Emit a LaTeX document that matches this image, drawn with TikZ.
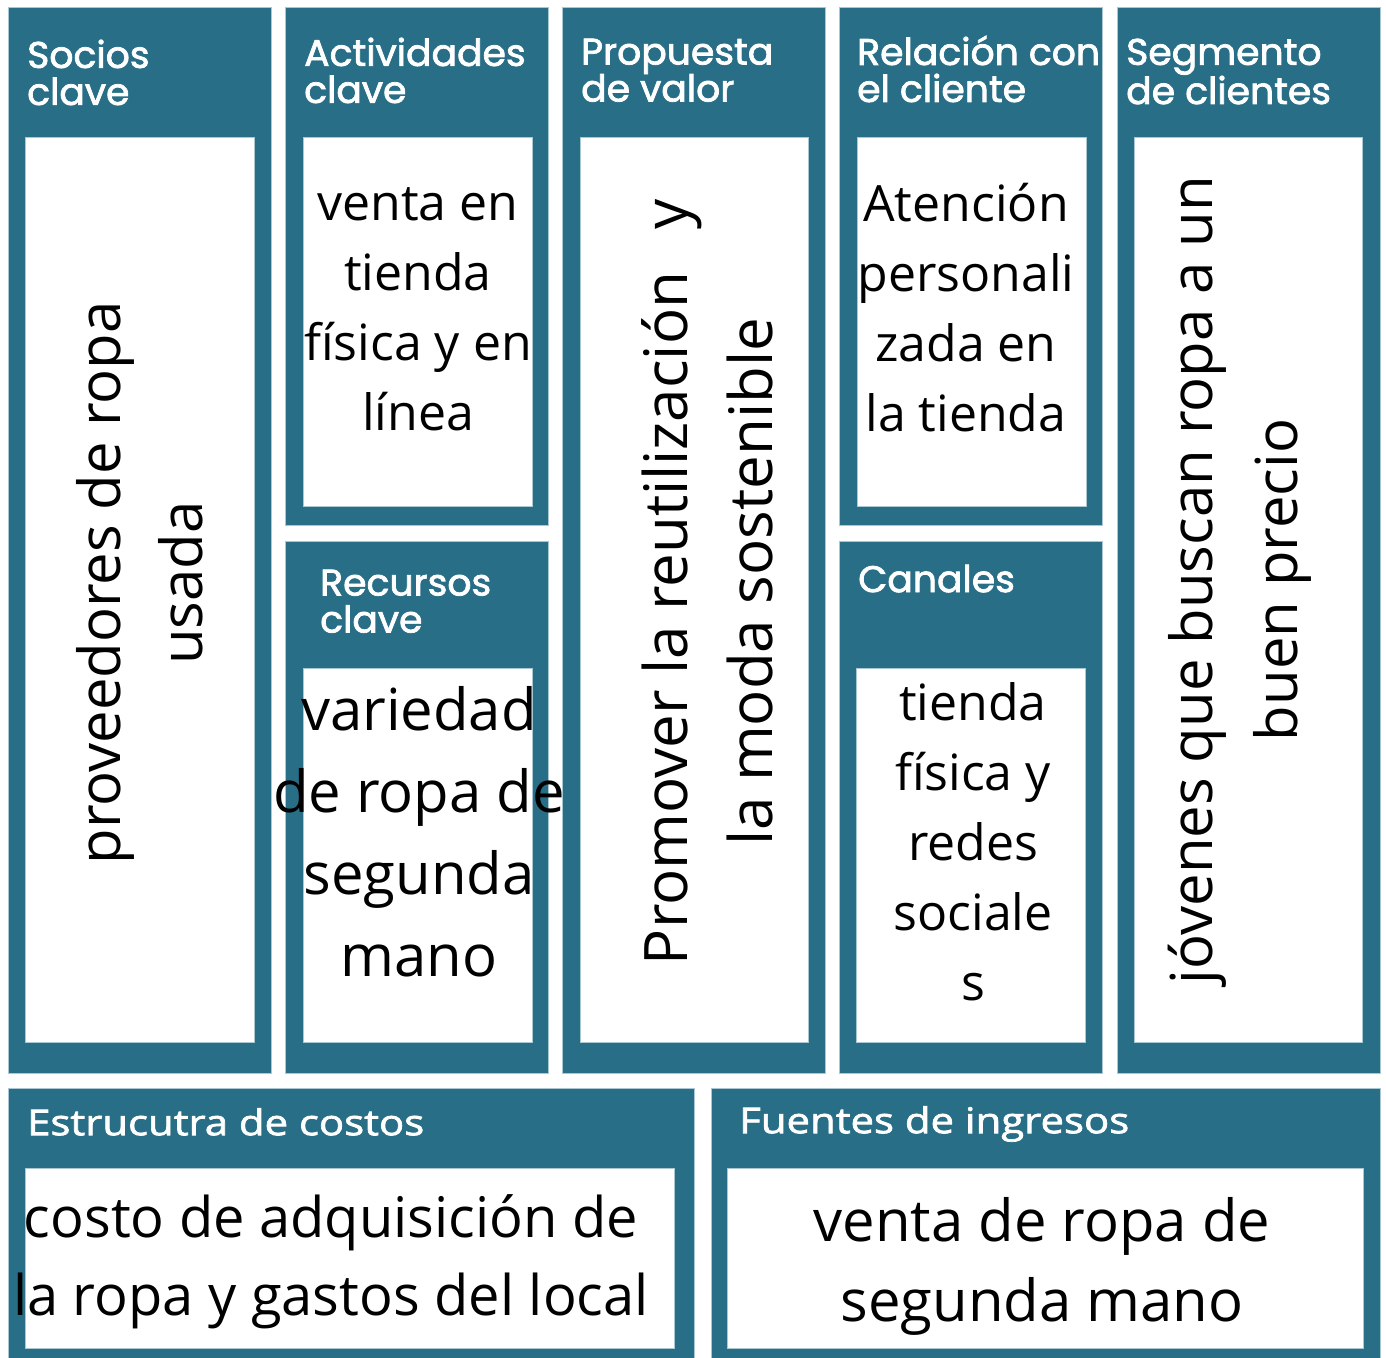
\documentclass[tikz,border=0pt]{standalone}
\usepackage{fontspec}
\setmainfont{Open Sans}
\newfontfamily\hdrfont{Poppins}[FakeBold=2,FakeStretch=1.02]
\newfontfamily\subhdrfont{Open Sans}[FakeBold=2,FakeStretch=1.18]
\newfontfamily\bodyfont{Open Sans}
\definecolor{canvasteal}{RGB}{40,110,135}
\definecolor{paleedge}{RGB}{170,200,212}
\begin{document}
\begin{tikzpicture}[x=1pt,y=-1pt,
  outerbox/.style={fill=canvasteal, draw=paleedge, line width=0.6pt, inner sep=0pt, outer sep=0pt, anchor=north west},
  innerbox/.style={fill=white, draw=paleedge, line width=0.8pt, inner sep=0pt, outer sep=0pt, anchor=north west},
  hdr/.style={text=white, font=\hdrfont\fontsize{37}{37}\selectfont, align=left, anchor=north west, inner sep=0pt},
  subhdr/.style={text=white, font=\subhdrfont\fontsize{35.5}{40}\selectfont, align=left, anchor=north west, inner sep=0pt},
  bodyM/.style={text=black, font=\bodyfont\fontsize{50}{70}\selectfont, align=center, inner sep=0pt},
  bodyL/.style={text=black, font=\bodyfont\fontsize{58}{82}\selectfont, align=center, inner sep=0pt},
  bodyR/.style={text=black, font=\bodyfont\fontsize{58}{82}\selectfont, align=center, inner sep=0pt, rotate=90},
]
\useasboundingbox (0,0) rectangle (1386,1357);
\fill[white] (0,0) rectangle (1386,1357);

% outer boxes
\node[outerbox, minimum width=263pt, minimum height=1066pt] (socios) at (8,7) {};
\node[outerbox, minimum width=263pt, minimum height=518pt] (activ) at (285,7) {};
\node[outerbox, minimum width=263pt, minimum height=532pt] (recur) at (285,541) {};
\node[outerbox, minimum width=263pt, minimum height=1066pt] (prop) at (562,7) {};
\node[outerbox, minimum width=263pt, minimum height=518pt] (relac) at (839,7) {};
\node[outerbox, minimum width=263pt, minimum height=532pt] (canal) at (839,541) {};
\node[outerbox, minimum width=263pt, minimum height=1066pt] (segm) at (1117,7) {};
\node[outerbox, minimum width=686pt, minimum height=275pt] (costos) at (8,1088) {};
\node[outerbox, minimum width=669pt, minimum height=275pt] (ingre) at (711,1088) {};

% inner white boxes
\node[innerbox, minimum width=229pt, minimum height=905pt] (sociosW) at (25,137) {};
\node[innerbox, minimum width=229pt, minimum height=369pt] (activW) at (303,137) {};
\node[innerbox, minimum width=229pt, minimum height=374pt] (recurW) at (303,668) {};
\node[innerbox, minimum width=228pt, minimum height=905pt] (propW) at (580,137) {};
\node[innerbox, minimum width=229pt, minimum height=369pt] (relacW) at (857,137) {};
\node[innerbox, minimum width=229pt, minimum height=374pt] (canalW) at (856,668) {};
\node[innerbox, minimum width=228pt, minimum height=905pt] (segmW) at (1134,137) {};
\node[innerbox, minimum width=649pt, minimum height=180pt] (costosW) at (25,1168) {};
\node[innerbox, minimum width=636pt, minimum height=180pt] (ingreW) at (727,1168) {};

% headers
\node[hdr] (hSocios) at (27,39.5) {Socios\\clave};
\node[hdr] (hActiv) at (304,37.5) {Actividades\\clave};
\node[hdr] (hProp) at (581,38.5) {Propuesta\\de valor};
\node[hdr] (hRelac) at (857,35.5) {Relación con\\el cliente};
\node[hdr] (hSegm) at (1126,38.5) {Segmento\\de clientes};
\node[hdr] (hRecur) at (320,569.5) {Recursos\\clave};
\node[hdr] (hCanal) at (858,564.5) {Canales};
\node[subhdr] (hCostos) at (27,1108) {Estrucutra de costos};
\node[subhdr] (hIngre) at (739,1106) {Fuentes de ingresos};

% body texts
\node[bodyR] (tSocios) at (140,583) {proveedores de ropa\\usada};
\node[bodyM] (tActiv) at (418,309) {venta en\\tienda\\física y en\\línea};
\node[bodyL] (tRecur) at (419,832) {variedad\\de ropa de\\segunda\\mano};
\node[bodyR, font=\bodyfont\fontsize{60}{85}\selectfont] (tProp) at (707,582) {Promover la reutilización\hspace{27pt} y\\la moda sostenible};
\node[bodyM] (tRelac) at (966,308) {Atención\\personali\\zada en\\la tienda};
\node[bodyM] (tCanal) at (973,842) {tienda\\física y\\redes\\sociale\\s};
\node[bodyR, font=\bodyfont\fontsize{58}{85}\selectfont] (tSegm) at (1240,580) {jóvenes que buscan ropa a un\\buen precio};
\node[bodyL, font=\bodyfont\fontsize{56}{78}\selectfont] (tCostos) at (331,1262) {costo de adquisición de\\la ropa y gastos del local};
\node[bodyL, font=\bodyfont\fontsize{58}{80}\selectfont] (tIngre) at (1042,1266) {venta de ropa de\\segunda mano};
\end{tikzpicture}
\end{document}
